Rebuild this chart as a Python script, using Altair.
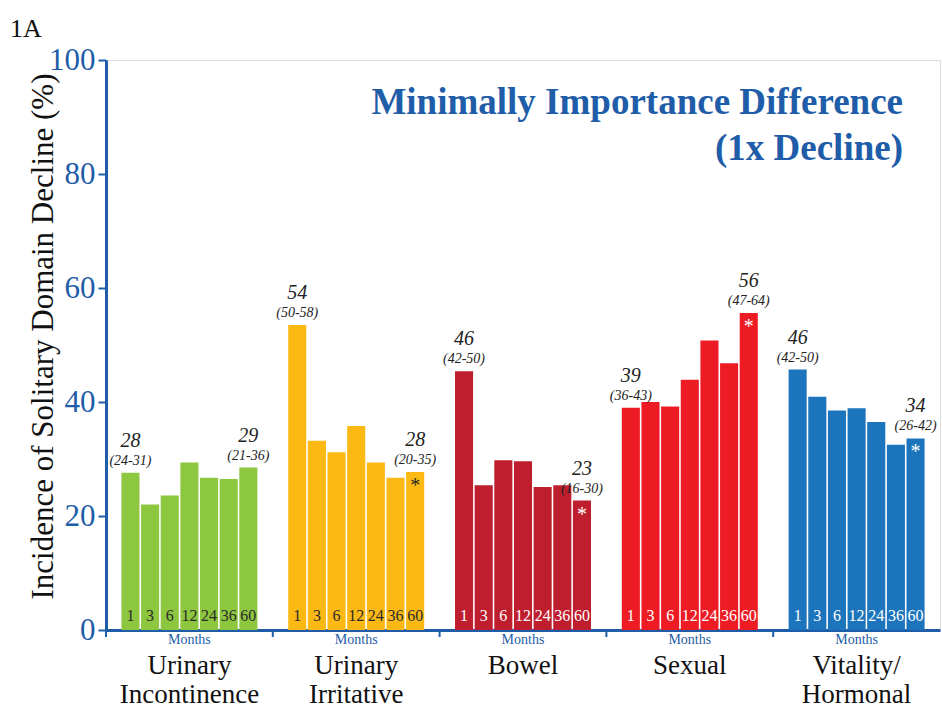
import altair as alt
import pandas as pd

domains = ["Urinary Incontinence", "Urinary Irritative", "Bowel", "Sexual", "Vitality/ Hormonal"]
domain_lines = ["Urinary|Incontinence", "Urinary|Irritative", "Bowel", "Sexual", "Vitality/|Hormonal"]
months = [1, 3, 6, 12, 24, 36, 60]

ui_vals = [27.6, 22.0, 23.6, 29.4, 26.7, 26.5, 28.5]
uirr_vals = [53.5, 33.2, 31.2, 35.8, 29.4, 26.7, 27.7]
bowel_vals = [45.4, 25.4, 29.8, 29.6, 25.1, 25.4, 22.7]
sexual_vals = [39.0, 40.0, 39.2, 43.9, 50.8, 46.8, 55.6]
vital_vals = [45.7, 40.9, 38.5, 38.9, 36.5, 32.5, 33.6]
all_vals = [ui_vals, uirr_vals, bowel_vals, sexual_vals, vital_vals]

first_val = ["28", "54", "46", "39", "46"]
first_ci = ["(24-31)", "(50-58)", "(42-50)", "(36-43)", "(42-50)"]
last_val = ["29", "28", "23", "56", "34"]
last_ci = ["(21-36)", "(20-35)", "(16-30)", "(47-64)", "(26-42)"]
has_star = [False, True, True, True, True]

bar_colors = ["#8DC63F", "#FDB913", "#BE1E2D", "#ED1C24", "#1C75BC"]
text_colors = ["#2b2b2b", "#2b2b2b", "#ffffff", "#ffffff", "#ffffff"]
BLUE = "#1F5DA8"
FONT = "Liberation Serif"

rows = []
for d, vals, tc in zip(domains, all_vals, text_colors):
    for m, v in zip(months, vals):
        rows.append({"domain": d, "month": m, "value": v, "tcol": tc, "mlabel": str(m)})
df = pd.DataFrame(rows)

ann = []
for i, d in enumerate(domains):
    ann.append({"domain": d, "month": months[0], "value": all_vals[i][0], "lab": first_val[i], "ci": first_ci[i]})
    ann.append({"domain": d, "month": months[-1], "value": all_vals[i][-1], "lab": last_val[i], "ci": last_ci[i]})
df_ann = pd.DataFrame(ann)

stars = [{"domain": d, "month": months[-1], "value": all_vals[i][-1], "tcol": text_colors[i] if i > 1 else "#2b2b2b"}
         for i, d in enumerate(domains) if has_star[i]]
df_star = pd.DataFrame(stars)

df_dom = pd.DataFrame({"domain": domains, "lines": domain_lines})

xscale = alt.Scale(domain=domains, paddingInner=0, paddingOuter=0)
xaxis = alt.Axis(labels=False, ticks=False, title=None, domainColor=BLUE, domainWidth=3)
X = alt.X("domain:N", sort=domains, scale=xscale, axis=xaxis)
XO = alt.XOffset("month:O", sort=months, scale=alt.Scale(paddingInner=0.08, paddingOuter=0.784))
yaxis = alt.Axis(values=[0, 20, 40, 60, 80, 100], grid=False, labelColor=BLUE, labelFont=FONT,
                 labelFontSize=31, labelPadding=3, tickColor=BLUE, tickWidth=2, tickSize=8,
                 domainColor=BLUE, domainWidth=3,
                 title="Incidence of Solitary Domain Decline (%)", titleFont=FONT, titleFontSize=31,
                 titleFontWeight="normal", titleColor="#111111", titleX=-47, titleY=276,
                 titleAlign="center", titleBaseline="bottom", titleAngle=-90)
Y = alt.Y("value:Q", scale=alt.Scale(domain=[0, 100]), axis=yaxis)

base = alt.Chart(df)

bars = base.mark_bar().encode(
    x=X, xOffset=XO, y=Y,
    color=alt.Color("domain:N", scale=alt.Scale(domain=domains, range=bar_colors), legend=None),
)

mlabels = base.mark_text(font=FONT, fontSize=16, baseline="alphabetic", dy=-9).encode(
    x=X, xOffset=XO, y=alt.datum(0), text="mlabel:N", color=alt.Color("tcol:N", scale=None)
)

ann_val = alt.Chart(df_ann).mark_text(font=FONT, fontSize=20, fontStyle="italic", baseline="alphabetic",
                                      dy=-26, color="#222222").encode(
    x=X, xOffset=XO, y=Y, text="lab:N"
)
ann_ci = alt.Chart(df_ann).mark_text(font=FONT, fontSize=14, fontStyle="italic", baseline="alphabetic",
                                     dy=-8, color="#222222").encode(
    x=X, xOffset=XO, y=Y, text="ci:N"
)
star = alt.Chart(df_star).mark_text(font=FONT, fontSize=20, baseline="top", dy=4, text="*").encode(
    x=X, xOffset=XO, y=Y, color=alt.Color("tcol:N", scale=None)
)

ticks = alt.Chart(df_dom).mark_rule(color=BLUE, strokeWidth=2).encode(
    x=alt.X("domain:N", sort=domains, scale=xscale, axis=xaxis, bandPosition=0),
    y=alt.value(570), y2=alt.value(577)
)

months_lbl = alt.Chart(df_dom).mark_text(font=FONT, fontSize=14, color=BLUE, baseline="alphabetic",
                                         text="Months").encode(
    x=X, y=alt.value(584)
)
dom_lbl = alt.Chart(df_dom).mark_text(font=FONT, fontSize=27, color="#111111", baseline="alphabetic",
                                      lineBreak="|", lineHeight=29).encode(
    x=X, y=alt.value(614), text="lines:N"
)

df_title = pd.DataFrame({"t": ["Minimally Importance Difference|(1x Decline)"]})
title = alt.Chart(df_title).mark_text(font=FONT, fontSize=37, fontWeight="bold", color=BLUE, align="right",
                                      baseline="alphabetic", lineBreak="|", lineHeight=46).encode(
    x=alt.value(797), y=alt.value(54), text="t:N"
)
df_tag = pd.DataFrame({"t": ["1A"]})
tag = alt.Chart(df_tag).mark_text(font=FONT, fontSize=26, color="#111111", align="left",
                                  baseline="alphabetic").encode(
    x=alt.value(-96), y=alt.value(-23), text="t:N"
)

chart = alt.layer(bars, mlabels, ann_val, ann_ci, star, ticks, months_lbl, dom_lbl, title, tag).properties(
    width=834, height=570,
    autosize=alt.AutoSizeParams(type="none"),
    padding={"left": 106, "top": 60, "right": 2, "bottom": 79},
).configure_view(stroke=BLUE, strokeWidth=1.5).configure(background="white")

chart.save("out.html", embed_options={"renderer": "svg", "actions": False})
